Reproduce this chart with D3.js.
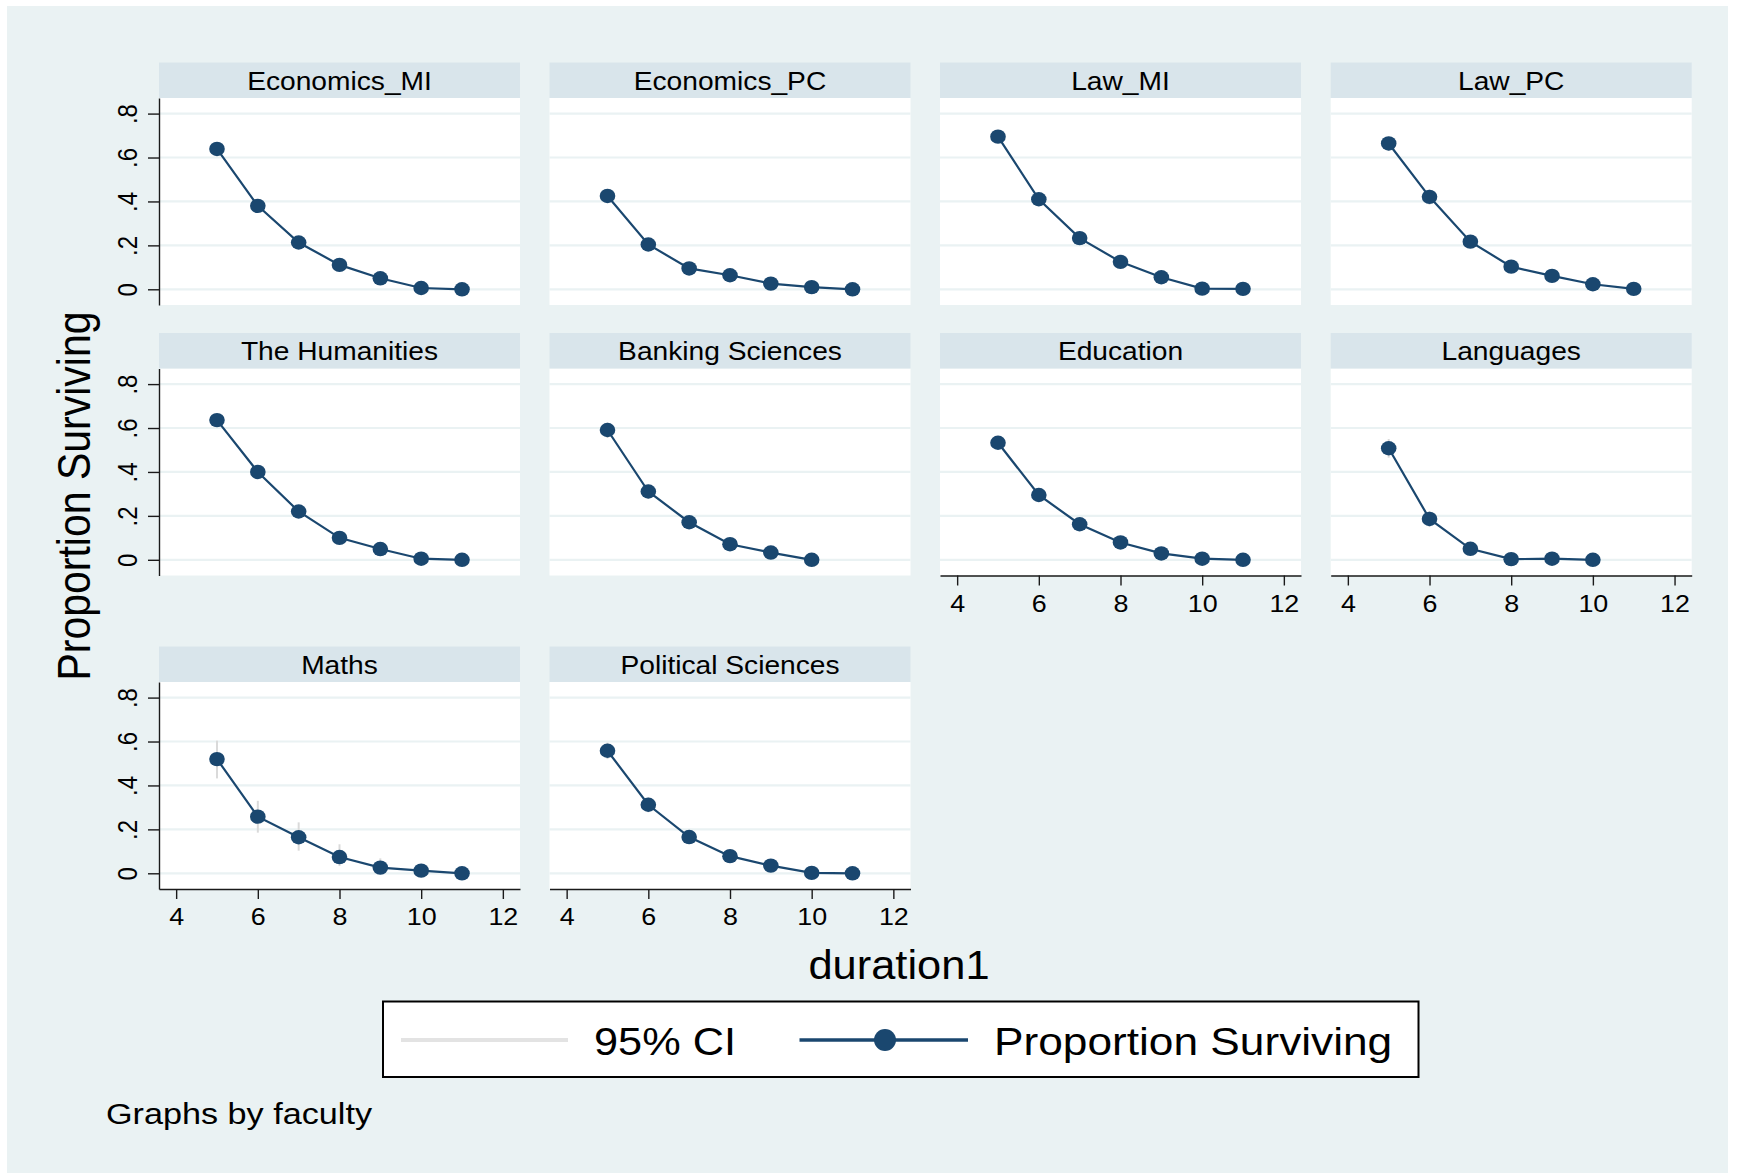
<!DOCTYPE html>
<html><head><meta charset="utf-8">
<script src="https://cdn.jsdelivr.net/npm/d3@7"></script>
<style>
html,body{margin:0;padding:0;background:#ffffff;}
svg{display:block;font-family:"Liberation Sans",Arial,Helvetica,sans-serif;}
</style>
</head><body>
<svg id="chart" width="1739" height="1174"></svg>
<script>
// ---------------- data ----------------
const faculties = ["Economics_MI","Economics_PC","Law_MI","Law_PC","The Humanities",
  "Banking Sciences","Education","Languages","Maths","Political Sciences"];
const durations = [5,6,7,8,9,10,11];
const survival = [
  [0.639,0.380,0.213,0.111,0.050,0.006,0.000],
  [0.425,0.204,0.095,0.064,0.026,0.010,0.000],
  [0.695,0.410,0.233,0.125,0.055,0.003,0.002],
  [0.664,0.421,0.217,0.103,0.061,0.023,0.002],
  [0.636,0.400,0.220,0.100,0.049,0.005,0.000],
  [0.591,0.311,0.171,0.071,0.033,0.000,null],
  [0.533,0.295,0.162,0.079,0.029,0.005,0.000],
  [0.508,0.186,0.050,0.003,0.005,0.000,null],
  [0.520,0.258,0.164,0.074,0.026,0.012,0.000],
  [0.558,0.312,0.165,0.078,0.035,0.002,0.000]
];
const ciLower = [
  [0.610,0.350,0.190,0.095,0.040,0.002,0.000],
  [0.395,0.180,0.078,0.050,0.018,0.004,0.000],
  [0.670,0.380,0.210,0.108,0.044,0.000,0.000],
  [0.630,0.385,0.190,0.085,0.048,0.014,0.000],
  [0.610,0.372,0.198,0.085,0.038,0.001,0.000],
  [0.555,0.278,0.148,0.056,0.023,0.000,null],
  [0.505,0.270,0.143,0.066,0.021,0.001,0.000],
  [0.465,0.150,0.032,0.000,0.000,0.000,null],
  [0.432,0.185,0.103,0.033,0.005,0.002,0.000],
  [0.520,0.278,0.140,0.060,0.022,0.000,0.000]
];
const ciUpper = [
  [0.665,0.410,0.235,0.130,0.062,0.012,0.000],
  [0.455,0.230,0.112,0.078,0.038,0.018,0.000],
  [0.720,0.440,0.255,0.143,0.068,0.008,0.007],
  [0.695,0.455,0.245,0.122,0.076,0.034,0.006],
  [0.662,0.428,0.243,0.116,0.063,0.011,0.000],
  [0.625,0.343,0.195,0.088,0.045,0.005,null],
  [0.560,0.320,0.182,0.093,0.038,0.010,0.003],
  [0.550,0.222,0.070,0.012,0.014,0.004,null],
  [0.604,0.330,0.232,0.132,0.068,0.035,0.008],
  [0.595,0.345,0.190,0.096,0.050,0.008,0.004]
];
const xTicks = [4,6,8,10,12];
const yTicks = [0,0.2,0.4,0.6,0.8];
const yTickLabels = ["0",".2",".4",".6",".8"];
const xTitle = "duration1";
const yTitle = "Proportion Surviving";
const legendLabels = ["95% CI","Proportion Surviving"];
const note = "Graphs by faculty";

// ---------------- style / layout ----------------
const C = {bg:"#eaf2f3", strip:"#d9e5eb", grid:"#eaf2f3", line:"#1a476f", ci:"#dadada", axis:"#1a1a1a"};
const svg = d3.select("#chart");
const colX = [159, 549.5, 940, 1330.7];
const stripTop = [62.5, 333, 646.5];
const stripH = 35.5, plotW = 361, plotH = 207;
const NCOL = 4;

const x = d3.scaleLinear().domain([3.58, 12.42]).range([0, plotW]);
const y = d3.scaleLinear().domain([-0.0715, 0.871]).range([plotH, 0]);

function txt(g, px, py, s, size, sx, anchor, rot) {
  return g.append("text")
    .attr("transform", `translate(${px},${py}) scale(${sx},1)` + (rot ? ` rotate(${rot})` : ""))
    .attr("font-size", size).attr("text-anchor", anchor || "start")
    .attr("fill", "#000").text(s);
}

// background
svg.append("rect").attr("x", 7).attr("y", 6).attr("width", 1721).attr("height", 1167).attr("fill", C.bg);

faculties.forEach((name, i) => {
  const row = Math.floor(i / NCOL), col = i % NCOL;
  const gx = colX[col], sTop = stripTop[row], pTop = sTop + stripH;
  const g = svg.append("g").attr("transform", `translate(${gx},${pTop})`);

  // strip
  svg.append("rect").attr("x", gx).attr("y", sTop).attr("width", plotW).attr("height", stripH).attr("fill", C.strip);
  txt(svg, gx + plotW / 2, sTop + 27, name, 25.6, 1.1, "middle");

  // plot region
  g.append("rect").attr("width", plotW).attr("height", plotH).attr("fill", "#fff");
  g.selectAll("line.grid").data(yTicks).join("line").attr("class", "grid")
    .attr("x1", 0).attr("x2", plotW).attr("y1", d => y(d)).attr("y2", d => y(d))
    .attr("stroke", C.grid).attr("stroke-width", 2.2);

  const pts = durations.map((d, k) => ({d, s: survival[i][k], lo: ciLower[i][k], hi: ciUpper[i][k]}))
    .filter(p => p.s !== null);

  // CI spikes
  g.selectAll("line.ci").data(pts).join("line").attr("class", "ci")
    .attr("x1", p => x(p.d)).attr("x2", p => x(p.d))
    .attr("y1", p => y(p.lo)).attr("y2", p => y(p.hi))
    .attr("stroke", C.ci).attr("stroke-width", 2);

  g.append("path").datum(pts)
    .attr("d", d3.line().x(p => x(p.d)).y(p => y(p.s)))
    .attr("fill", "none").attr("stroke", C.line).attr("stroke-width", 2.2);

  g.selectAll("ellipse.pt").data(pts).join("ellipse").attr("class", "pt")
    .attr("cx", p => x(p.d)).attr("cy", p => y(p.s)).attr("rx", 7.8).attr("ry", 7.2)
    .attr("fill", C.line);

  // y axis on first column
  if (col === 0) {
    const ya = g.append("g").call(d3.axisLeft(y).tickValues(yTicks)
      .tickFormat((d, k) => yTickLabels[k]).tickSize(11).tickSizeOuter(0));
    ya.select(".domain").attr("stroke", C.axis).attr("stroke-width", 1.4);
    ya.selectAll(".tick line").attr("stroke", C.axis).attr("stroke-width", 1.4);
    ya.selectAll(".tick text").attr("x", null).attr("dy", null)
      .attr("transform", "translate(-22,0) scale(1.12,1) rotate(-90)")
      .attr("text-anchor", "middle").attr("font-size", 24).attr("fill", "#000");
    ya.attr("font-family", null);
  }
  // x axis on bottom panel of each column
  if (i + NCOL >= faculties.length) {
    const xa = g.append("g").attr("transform", `translate(0,${plotH})`)
      .call(d3.axisBottom(x).tickValues(xTicks).tickSize(10).tickSizeOuter(0));
    xa.select(".domain").attr("stroke", C.axis).attr("stroke-width", 1.4);
    xa.selectAll(".tick line").attr("stroke", C.axis).attr("stroke-width", 1.4);
    xa.selectAll(".tick text").attr("y", null).attr("dy", null)
      .attr("transform", "translate(0,36) scale(1.12,1)")
      .attr("font-size", 24).attr("fill", "#000");
    xa.attr("font-family", null);
  }
});

// axis titles
txt(svg, 90, 496, yTitle, 41, 1.12, "middle", -90);
txt(svg, 899, 979, xTitle, 41, 1.06, "middle");

// legend
const lg = svg.append("g");
lg.append("rect").attr("x", 383).attr("y", 1001.5).attr("width", 1035.5).attr("height", 75.5)
  .attr("fill", "#fff").attr("stroke", "#000").attr("stroke-width", 2);
lg.append("line").attr("x1", 401).attr("x2", 568).attr("y1", 1040).attr("y2", 1040)
  .attr("stroke", "#e3e3e3").attr("stroke-width", 4);
txt(lg, 594, 1055, legendLabels[0], 39.5, 1.096, "start");
lg.append("line").attr("x1", 799.5).attr("x2", 968).attr("y1", 1040).attr("y2", 1040)
  .attr("stroke", C.line).attr("stroke-width", 3.5);
lg.append("ellipse").attr("cx", 885).attr("cy", 1040).attr("rx", 11).attr("ry", 11).attr("fill", C.line);
txt(lg, 994, 1055, legendLabels[1], 39.5, 1.12, "start");

// note
txt(svg, 106, 1124, note, 30, 1.14, "start");
</script>
</body></html>
